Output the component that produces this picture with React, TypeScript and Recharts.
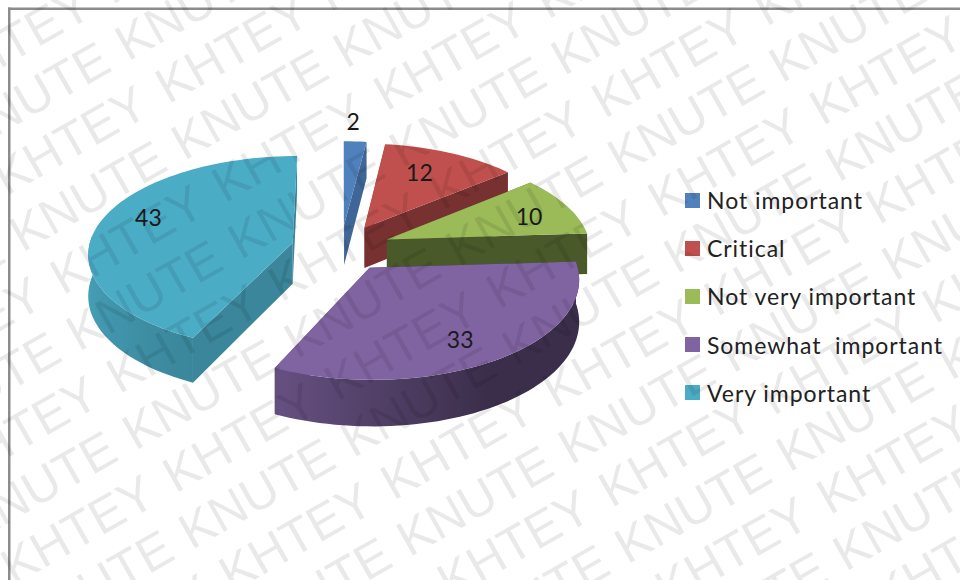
import React from "react";
import { PieChart, Pie, Legend } from "recharts";

const categories = ["Not important", "Critical", "Not very important", "Somewhat  important", "Very important"];
const shares = [2, 12, 10, 33, 43];
const colors = ["#4f81bd", "#c0504d", "#9bbb59", "#8064a2", "#4bacc6"];
const watermarkWords = ["KNUTE", "KHTEY"];

const pieRows = categories.map((name, i) => ({ name, value: shares[i], fill: colors[i] }));

// Camera model for the tilted, exploded pie: units are fractions of the radius.
const TILT = 0.473;
const PERSPECTIVE = 0.1;
const EXPLODE = 0.244;
const THICKNESS = 41;
const RAD = Math.PI / 180;

// Where each value sits on its wedge: [angle shift in degrees, distance from the tip].
const labelPlacement = [
  [-1.2, 1.28],
  [-3.8, 0.71],
  [2.3, 0.77],
  [3.2, 0.77],
  [8.4, 0.79],
];

type Pt = [number, number];

const project = (cx: number, cy: number, r: number, x: number, y: number, drop = 0): Pt => {
  const w = 1 + PERSPECTIVE * y;
  return [cx + (r * x) / w, cy + (-r * TILT * y + drop) / w];
};

const polar = (deg: number, rho: number): Pt => [rho * Math.sin(deg * RAD), rho * Math.cos(deg * RAD)];

const shade = (hex: string, f: number) => {
  const n = parseInt(hex.slice(1), 16);
  const c = [(n >> 16) & 255, (n >> 8) & 255, n & 255].map((v) => Math.round(v * f));
  return `rgb(${c[0]},${c[1]},${c[2]})`;
};

// Brightness of the outer wall by clockwise angle from twelve o'clock.
const arcLight = (a: number) => {
  if (a <= 150) return 0.46;
  if (a <= 205) return 0.46 + ((a - 150) / 55) * 0.34;
  if (a <= 270) return 0.78 + ((a - 205) / 65) * 0.18;
  return 1;
};
const cutLight = (a: number) => (a < 120 ? 0.82 - a * 0.004 : 0.78);

const toPath = (pts: Pt[]) => "M" + pts.map((p) => `${p[0].toFixed(2)},${p[1].toFixed(2)}`).join("L") + "Z";

const Slice3D = (props: any) => {
  const { cx, cy, outerRadius: r, startAngle, endAngle, fill } = props;
  const a0 = 90 - startAngle;
  const a1 = 90 - endAngle;
  const mid = (a0 + a1) / 2;
  const [ox, oy] = polar(mid, EXPLODE);
  const steps = Math.max(4, Math.ceil((a1 - a0) / 2));
  const rim: { a: number; x: number; y: number }[] = [];
  for (let i = 0; i <= steps; i++) {
    const a = a0 + ((a1 - a0) * i) / steps;
    const [px, py] = polar(a, 1);
    rim.push({ a, x: ox + px, y: oy + py });
  }
  const P = (x: number, y: number, drop = 0) => project(cx, cy, r, x, y, drop);
  const cutWall = (x: number, y: number): Pt[] => [P(ox, oy), P(x, y), P(x, y, THICKNESS), P(ox, oy, THICKNESS)];

  const first = rim[0];
  const last = rim[rim.length - 1];
  const cuts = [
    { depth: first.y, pts: cutWall(first.x, first.y), tone: shade(fill, cutLight(a0)) },
    { depth: last.y, pts: cutWall(last.x, last.y), tone: shade(fill, cutLight(a1)) },
  ].sort((p, q) => q.depth - p.depth);

  // The part of the curved wall that faces the viewer is one shape with a sideways gradient.
  const front = rim.filter((p) => p.a >= 80 && p.a <= 275);
  const gradId = `wall-${fill.slice(1)}`;
  let wall: React.ReactNode = null;
  if (front.length > 1) {
    const tops = front.map((p) => P(p.x, p.y));
    const bottoms = front.map((p) => P(p.x, p.y, THICKNESS)).reverse();
    const xs = tops.map((p) => p[0]);
    const minX = Math.min(...xs);
    const maxX = Math.max(...xs);
    const stops = front
      .filter((p) => p.a >= 90 && p.a <= 270)
      .map((p) => ({ at: (P(p.x, p.y)[0] - minX) / (maxX - minX), tone: shade(fill, arcLight(p.a)) }))
      .sort((p, q) => p.at - q.at);
    wall = (
      <>
        <defs>
          <linearGradient id={gradId} gradientUnits="userSpaceOnUse" x1={minX} x2={maxX} y1={0} y2={0}>
            {stops.map((s, i) => (
              <stop key={i} offset={s.at} stopColor={s.tone} />
            ))}
          </linearGradient>
        </defs>
        <path d={toPath([...tops, ...bottoms])} fill={`url(#${gradId})`} />
      </>
    );
  }

  const top: Pt[] = [P(ox, oy), ...rim.map((p) => P(p.x, p.y))];
  return (
    <g>
      {cuts.map((w, i) => (
        <path key={i} d={toPath(w.pts)} fill={w.tone} />
      ))}
      {wall}
      <path d={toPath(top)} fill={fill} />
    </g>
  );
};

const sliceLabel = (props: any) => {
  const { cx, cy, outerRadius: r, midAngle, value, index } = props;
  const mid = 90 - midAngle;
  const [ox, oy] = polar(mid, EXPLODE);
  const [shift, rho] = labelPlacement[index];
  const [lx, ly] = polar(mid + shift, rho);
  const [sx, sy] = project(cx, cy, r, ox + lx, oy + ly);
  return (
    <text x={sx} y={sy} textAnchor="middle" dominantBaseline="central" fontFamily="Lato" fontSize={23} fill="#1a1a1a">
      {value}
    </text>
  );
};

const legendBlock = ({ payload }: any) => (
  <ul style={{ listStyle: "none", margin: 0, padding: 0, fontFamily: "Lato", fontSize: 23, color: "#222" }}>
    {(payload || []).map((entry: any) => (
      <li key={entry.value} style={{ height: 48.2, display: "flex", alignItems: "center", whiteSpace: "pre", letterSpacing: 0.95 }}>
        <span style={{ width: 15, height: 15, background: entry.color, marginRight: 7, flex: "none" }} />
        {entry.value}
      </li>
    ))}
  </ul>
);

// Repeating diagonal stamp laid over the whole figure.
const STAMP_ANGLE = 29.6;
const stampCells = (() => {
  const cells: { key: string; x: number; y: number; word: string }[] = [];
  const ux = Math.cos(STAMP_ANGLE * RAD);
  const uy = -Math.sin(STAMP_ANGLE * RAD);
  for (let row = -12; row <= 12; row++) {
    for (let col = -8; col <= 8; col++) {
      const odd = Math.abs(row) % 2 === 1;
      const x = col * 186 + (odd ? 20 : 6);
      const y = row * 57;
      // keep only words whose extent can reach the 960x580 page
      const px = 132 + x * ux - y * uy;
      const py = 453 + x * uy + y * ux;
      const ex = px + 170 * ux;
      const ey = py + 170 * uy;
      if (ex < -40 || px > 1000 || (ey > 660 && py > 660) || (py < -40 && ey < -40)) continue;
      cells.push({ key: `${row}:${col}`, x, y, word: watermarkWords[odd ? 1 : 0] });
    }
  }
  return cells;
})();

const Overlay = () => (
  <svg width={960} height={580} style={{ position: "absolute", left: 0, top: 0, pointerEvents: "none" }}>
    <rect x={8} y={7.5} width={952} height={2.5} fill="#8c8c8c" />
    <rect x={8} y={7.5} width={2.5} height={573} fill="#8c8c8c" />
    <g transform={`translate(130,454) rotate(${-STAMP_ANGLE})`} fontFamily="Liberation Sans" fontSize={50} fill="#000" fillOpacity={0.085}>
      {stampCells.map((c) => (
        <text key={c.key} x={c.x} y={c.y}>
          {c.word}
        </text>
      ))}
    </g>
  </svg>
);

export default function App() {
  return (
    <div style={{ position: "absolute", left: 0, top: 0, width: 960, height: 580, overflow: "hidden", background: "#fff" }}>
      <PieChart width={960} height={580} margin={{ top: 0, right: 0, bottom: 0, left: 0 }}>
        <Pie
          data={pieRows}
          dataKey="value"
          nameKey="name"
          cx={341}
          cy={248}
          outerRadius={204}
          startAngle={90}
          endAngle={-270}
          stroke="none"
          shape={Slice3D}
          label={sliceLabel}
          labelLine={false}
          isAnimationActive={false}
        />
        <Legend
          layout="vertical"
          align="right"
          verticalAlign="top"
          content={legendBlock}
          itemSorter={null as any}
          wrapperStyle={{ left: 685, top: 176, width: 272, right: "auto" }}
        />
      </PieChart>
      <Overlay />
    </div>
  );
}
